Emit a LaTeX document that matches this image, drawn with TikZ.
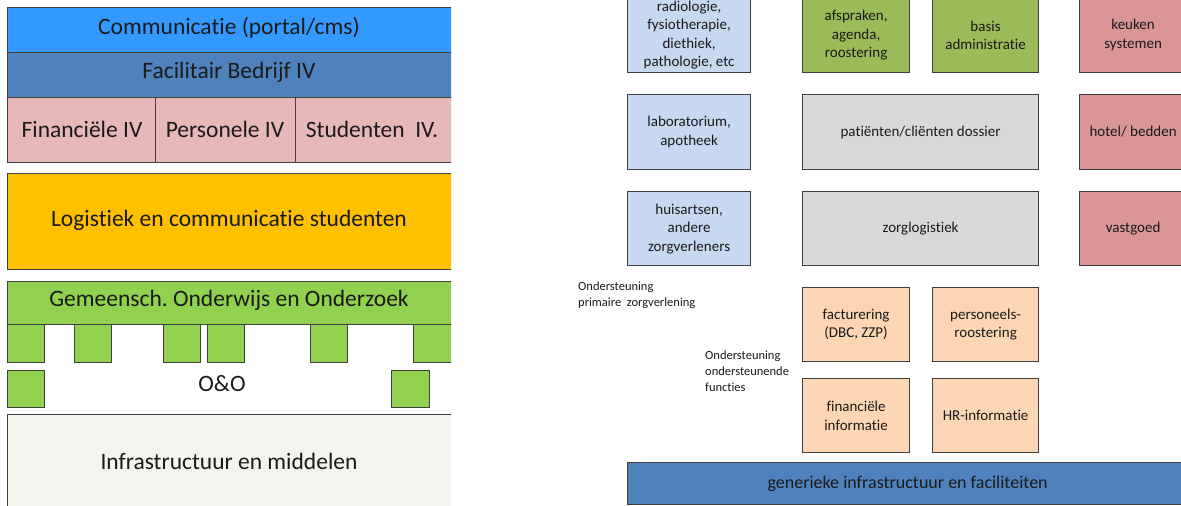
\documentclass[tikz,border=0pt]{standalone}
\usepackage{fontspec}
\setmainfont{Carlito}[Ligatures={NoCommon}]
\definecolor{commblue}{HTML}{3399FF}
\definecolor{facblue}{HTML}{4F81BD}
\definecolor{pinkiv}{HTML}{E6B9B8}
\definecolor{orangel}{HTML}{FFC000}
\definecolor{greenl}{HTML}{92D050}
\definecolor{infrac}{HTML}{F4F3EE}
\definecolor{lblue}{HTML}{C6D9F1}
\definecolor{olive}{HTML}{9BBB59}
\definecolor{grayb}{HTML}{D9D9D9}
\definecolor{roseb}{HTML}{D99694}
\definecolor{peach}{HTML}{FCD5B5}
\definecolor{edgec}{HTML}{404040}
\definecolor{txt}{HTML}{1A1A1A}
\tikzset{
  lbox/.style={draw=edgec, line width=1.2pt, anchor=north west, inner sep=0pt},
  rbox/.style={draw=edgec, line width=1.2pt, anchor=north west, inner sep=0pt,
    text=txt, align=center, font=\fontsize{15}{18.5}\selectfont},
  sq/.style={draw=edgec, line width=1pt, fill=greenl, anchor=north west, inner sep=0pt},
  lbl/.style={anchor=north west, inner sep=0pt, text=txt, align=left,
    font=\fontsize{12.5}{15.8}\selectfont}
}
\begin{document}
\begin{tikzpicture}[x=1pt,y=-1pt]
\clip (0,0) rectangle (1181,506);
\fill[white] (0,0) rectangle (1181,506);
% ---------- left panel ----------
\begin{scope}
\clip (0,0) rectangle (451,506);
\node[lbox, fill=commblue, minimum width=460pt, minimum height=45pt] (comm) at (7,7) {};
\node[lbox, fill=facblue, minimum width=460pt, minimum height=45pt] (fac) at (7,52) {};
\node[lbox, fill=pinkiv, minimum width=148pt, minimum height=65pt] (fin) at (7,97) {};
\node[lbox, fill=pinkiv, minimum width=140pt, minimum height=65pt] (pers) at (155,97) {};
\node[lbox, fill=pinkiv, minimum width=165pt, minimum height=65pt] (stud) at (295,97) {};
\node[lbox, fill=orangel, minimum width=460pt, minimum height=96pt] (log) at (7,173) {};
\node[lbox, fill=greenl, minimum width=460pt, minimum height=43pt] (gem) at (7,281) {};
\node[sq, minimum width=37pt, minimum height=38pt] (s1) at (7,324) {};
\node[sq, minimum width=37pt, minimum height=38pt] (s2) at (74,324) {};
\node[sq, minimum width=37pt, minimum height=38pt] (s3) at (163,324) {};
\node[sq, minimum width=37pt, minimum height=38pt] (s4) at (207,324) {};
\node[sq, minimum width=37pt, minimum height=38pt] (s5) at (310,324) {};
\node[sq, minimum width=45pt, minimum height=38pt] (s6) at (413,324) {};
\node[sq, minimum width=37pt, minimum height=37pt] (s7) at (7,370) {};
\node[sq, minimum width=38pt, minimum height=37pt] (s8) at (391,370) {};
\node[lbox, fill=infrac, minimum width=460pt, minimum height=110pt] (infra) at (7,414) {};
\end{scope}
\begin{scope}[every node/.style={text=txt, font=\fontsize{23.5}{28}\selectfont, inner sep=0pt}]
\node (tcomm) at (229,28) {Communicatie (portal/cms)};
\node (tfac) at (229,72) {Facilitair Bedrijf IV};
\node (tfin) at (82,129) {Financiële IV};
\node (tpers) at (225,129) {Personele IV};
\node (tstud) at (372,129) {Studenten\ \ IV.};
\node (tlog) at (229,220) {Logistiek en communicatie studenten};
\node (tgem) at (229,300) {Gemeensch.\ Onderwijs en Onderzoek};
\node (too) at (222,384) {O\&O};
\node (tinfra) at (229,461) {Infrastructuur en middelen};
\end{scope}
% ---------- right panel ----------
\node[rbox, fill=lblue, minimum width=123pt, minimum height=75pt] (radio) at (627,-3)
  {radiologie,\\fysiotherapie,\\diethiek,\\pathologie, etc};
\node[rbox, fill=olive, minimum width=107pt, minimum height=75pt] (afspr) at (802,-3)
  {afspraken,\\agenda,\\roostering};
\node[rbox, fill=olive, minimum width=106pt, minimum height=75pt] (basis) at (932,-3)
  {basis\\administratie};
\node[rbox, fill=roseb, minimum width=107pt, minimum height=75pt] (keuken) at (1079,-3)
  {keuken\\systemen};
\node[rbox, fill=lblue, minimum width=123pt, minimum height=75pt] (lab) at (627,94)
  {laboratorium,\\apotheek};
\node[rbox, fill=grayb, minimum width=236pt, minimum height=75pt] (pat) at (802,94)
  {patiënten/cliënten dossier};
\node[rbox, fill=roseb, minimum width=107pt, minimum height=75pt] (hotel) at (1079,94)
  {hotel/ bedden};
\node[rbox, fill=lblue, minimum width=123pt, minimum height=74pt] (huis) at (627,191)
  {huisartsen,\\andere\\zorgverleners};
\node[rbox, fill=grayb, minimum width=236pt, minimum height=74pt] (zorg) at (802,191)
  {zorglogistiek};
\node[rbox, fill=roseb, minimum width=107pt, minimum height=74pt] (vast) at (1079,191)
  {vastgoed};
\node[rbox, fill=peach, minimum width=107pt, minimum height=74pt] (fact) at (802,287)
  {facturering\\(DBC, ZZP)};
\node[rbox, fill=peach, minimum width=106pt, minimum height=74pt] (persr) at (932,287)
  {personeels-\\roostering};
\node[rbox, fill=peach, minimum width=107pt, minimum height=74pt] (fini) at (802,378)
  {financiële\\informatie};
\node[rbox, fill=peach, minimum width=106pt, minimum height=74pt] (hri) at (932,378)
  {HR-informatie};
\node[rbox, fill=facblue, minimum width=560pt, minimum height=42pt,
  font=\fontsize{18}{22}\selectfont] (gen) at (627,462)
  {generieke infrastructuur en faciliteiten};
\node[lbl] (lprim) at (578,282) {Ondersteuning\\primaire\ \ zorgverlening};
\node[lbl] (londer) at (705,351) {Ondersteuning\\ondersteunende\\functies};
\end{tikzpicture}
\end{document}
